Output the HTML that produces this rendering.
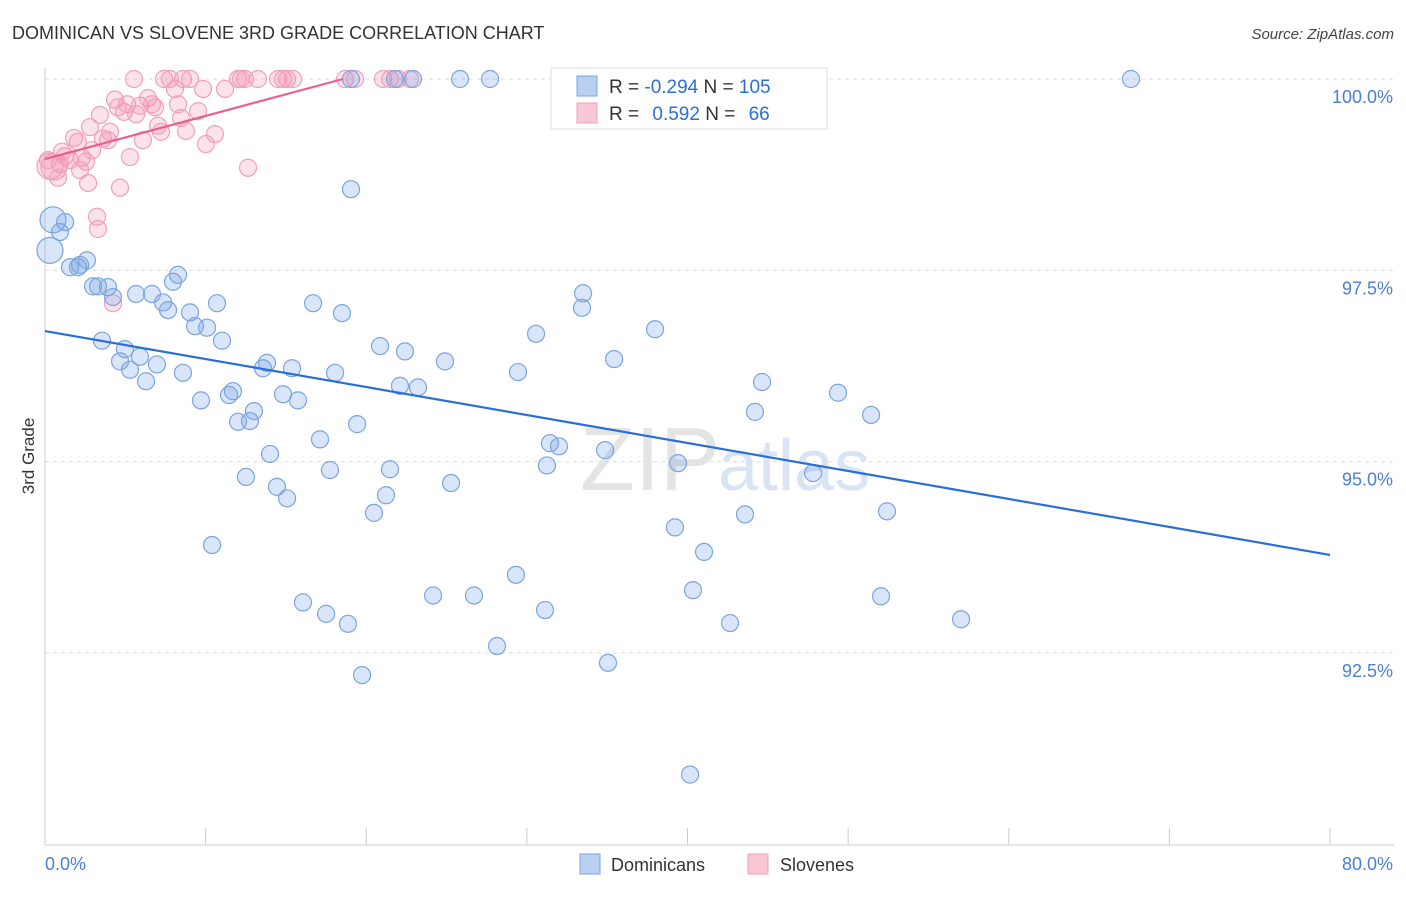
<!DOCTYPE html>
<html><head><meta charset="utf-8"><style>
body{margin:0;background:#fff;font-family:"Liberation Sans",sans-serif}
svg text{font-family:"Liberation Sans",sans-serif}
</style></head><body>
<svg id="chart" width="1406" height="892" xmlns="http://www.w3.org/2000/svg">
<text x="12" y="39" font-size="18" fill="#333">DOMINICAN VS SLOVENE 3RD GRADE CORRELATION CHART</text>
<text x="1394" y="39" font-size="15" fill="#444" text-anchor="end" font-style="italic">Source: ZipAtlas.com</text>
<text x="720" y="490" font-size="90" fill="#e4e4e4" text-anchor="end" font-family="Liberation Serif">ZIP</text>
<text x="718" y="490" font-size="72" fill="#d8e4f4">atlas</text>
<g id="grid"></g>
<g id="axes"></g>
<g id="marks"></g>
<text transform="translate(34,456) rotate(-90)" font-size="17" fill="#333" text-anchor="middle">3rd Grade</text>
<g>
<rect x="551" y="68" width="276" height="61" fill="#fff" stroke="#ddd"/>
<rect x="577" y="76" width="20" height="20" fill="#b8cff2" stroke="#7aa5e0"/>
<rect x="577" y="103" width="20" height="20" fill="#f9c6d6" stroke="#f0a0bb"/>
<text x="609" y="93" font-size="19" fill="#333">R = <tspan fill="#2a6fd6">-0.294</tspan>   N = <tspan fill="#2a6fd6">105</tspan></text>
<text x="609" y="120" font-size="19" fill="#333">R =  <tspan fill="#2a6fd6" dx="8">0.592</tspan>   N =  <tspan fill="#2a6fd6" dx="8">66</tspan></text>
</g>
<g>
<rect x="580" y="854" width="20" height="20" fill="#b8cff2" stroke="#7aa5e0"/>
<text x="611" y="871" font-size="18" fill="#333">Dominicans</text>
<rect x="748" y="854" width="20" height="20" fill="#f9c6d6" stroke="#f0a0bb"/>
<text x="780" y="871" font-size="18" fill="#333">Slovenes</text>
</g>
</svg>
<script>
const yTicks=[100,97.5,95,92.5];
const yTickLabels=["100.0%","97.5%","95.0%","92.5%"];
const xTicks=[0,10,20,30,40,50,60,70,80];
const blueX=[0.31,0.50,1.25,0.93,1.56,2.05,2.18,2.61,2.99,3.30,3.92,4.23,3.55,4.98,4.67,5.29,5.91,6.29,6.97,7.35,7.66,7.97,8.28,5.67,6.66,8.59,9.03,9.34,10.09,11.02,10.71,9.71,11.46,11.70,12.02,12.76,13.01,13.57,13.82,14.01,12.51,14.44,15.07,10.40,14.82,15.38,15.75,16.69,17.12,17.74,18.06,18.49,19.05,19.43,20.86,21.48,22.10,22.41,21.23,20.48,23.22,24.90,25.28,24.16,26.71,25.84,27.71,28.14,29.32,29.45,30.57,31.44,31.25,32.00,31.13,33.50,33.43,34.87,35.05,35.43,37.98,39.22,39.41,40.34,41.03,40.16,42.65,43.58,44.20,44.64,47.82,49.37,51.43,52.05,52.42,57.03,67.61,19.05,21.79,22.91,32.38,45.39,19.74,18.86,17.50,16.06];
const blueY=[97.76,98.16,98.13,98.00,97.54,97.54,97.57,97.63,97.29,97.29,97.28,97.15,96.58,96.47,96.31,96.20,96.37,96.05,96.27,97.08,96.98,97.35,97.44,97.19,97.19,96.16,96.95,96.77,96.75,96.58,97.07,95.80,95.87,95.92,95.52,95.53,95.66,96.22,96.29,95.10,94.80,94.67,94.52,93.91,95.88,96.22,95.80,97.07,95.29,94.89,96.16,96.94,98.56,95.49,96.51,94.90,95.99,96.44,94.56,94.33,95.97,96.31,94.72,93.25,93.25,100,100,92.59,93.52,96.17,96.67,95.24,94.95,95.20,93.06,97.20,97.01,95.15,92.37,96.34,96.73,94.14,94.98,93.32,93.82,90.91,92.89,94.31,95.65,96.04,94.85,95.90,95.61,93.24,94.35,92.94,100,100,100,100,100,100,92.21,92.88,93.01,93.16];
const pinkX=[0.31,0.56,0.81,1.06,1.25,1.56,1.81,2.05,2.18,2.30,2.55,2.68,2.80,2.93,3.24,3.30,3.42,3.61,3.92,4.05,4.23,4.36,4.54,4.67,4.92,5.11,5.29,5.54,5.67,5.91,6.10,6.41,6.66,6.85,7.04,7.22,7.41,7.78,8.09,8.28,8.47,8.59,8.78,9.03,9.53,9.84,10.02,10.58,11.21,12.02,12.20,12.45,12.64,13.26,14.51,14.82,15.07,15.44,21.04,21.48,21.98,22.72,19.30,18.68,0.19,0.93];
const pinkY=[98.86,98.85,98.71,99.05,98.99,98.94,99.23,99.18,98.81,98.97,98.92,98.64,99.37,99.07,98.20,98.04,99.53,99.22,99.20,99.31,97.07,99.73,99.63,98.58,99.57,99.67,98.98,100,99.54,99.65,99.20,99.75,99.67,99.63,99.39,99.31,100,100,99.87,99.67,99.49,100,99.32,100,99.58,99.87,99.15,99.28,99.87,100,100,100,98.84,100,100,100,100,100,100,100,100,100,100,100,98.94,98.89];
const blueTrend=[[0,96.706],[80,93.78]];
const pinkTrend=[[0,98.954],[18.55,100]];
const NS="http://www.w3.org/2000/svg";
const X=v=>45+v/80*1285;
const Y=v=>79+(100-v)/2.5*191.3;
function mk(tag,attrs,parent){const e=document.createElementNS(NS,tag);for(const k in attrs)e.setAttribute(k,attrs[k]);parent.appendChild(e);return e;}
const grid=document.getElementById('grid'),axes=document.getElementById('axes'),marks=document.getElementById('marks');
yTicks.forEach((t,i)=>{
 const l=mk('line',{x1:45,x2:1394,y1:Y(t),y2:Y(t),stroke:'#ddd','stroke-dasharray':'4,4'},grid);
 
 
 const tx=mk('text',{x:1393,y:Y(t)+24,'font-size':18,fill:'#4a7fd4','text-anchor':'end'},axes);
 tx.textContent=yTickLabels[i];
 
 
});
const al=mk('line',{x1:45,x2:45,y1:68,y2:845,stroke:'#ccc'},axes);


const bl=mk('line',{x1:45,x2:1394,y1:845,y2:845,stroke:'#ccc'},axes);


xTicks.forEach(t=>{
 const l=mk('line',{x1:X(t),x2:X(t),y1:828,y2:845,stroke:'#ccc'},axes);
 
 
});
const x0=mk('text',{x:45,y:870,'font-size':18,fill:'#4a7fd4'},axes);x0.textContent='0.0%';


const x1=mk('text',{x:1393,y:870,'font-size':18,fill:'#4a7fd4','text-anchor':'end'},axes);x1.textContent='80.0%';


function dots(xs,ys,fill,stroke,name){
 xs.forEach((v,i)=>{
  const big=(v<0.6&&i<2);
  const c=mk('circle',{cx:X(v),cy:Y(ys[i]),r:big?13:8.5,fill:fill,stroke:stroke,'stroke-width':1.2},marks);
  
  
 });
}
dots(pinkX,pinkY,'rgba(244,150,180,0.28)','#f0a0bb','slovene-point');
dots(blueX,blueY,'rgba(120,160,230,0.28)','#7aa5e0','dominican-point');
const bt=mk('line',{x1:X(blueTrend[0][0]),y1:Y(blueTrend[0][1]),x2:X(blueTrend[1][0]),y2:Y(blueTrend[1][1]),stroke:'#2a6fd6','stroke-width':2.2},marks);


const pt=mk('line',{x1:X(pinkTrend[0][0]),y1:Y(pinkTrend[0][1]),x2:X(pinkTrend[1][0]),y2:Y(pinkTrend[1][1]),stroke:'#e8608f','stroke-width':2.2},marks);


</script>
</body></html>
